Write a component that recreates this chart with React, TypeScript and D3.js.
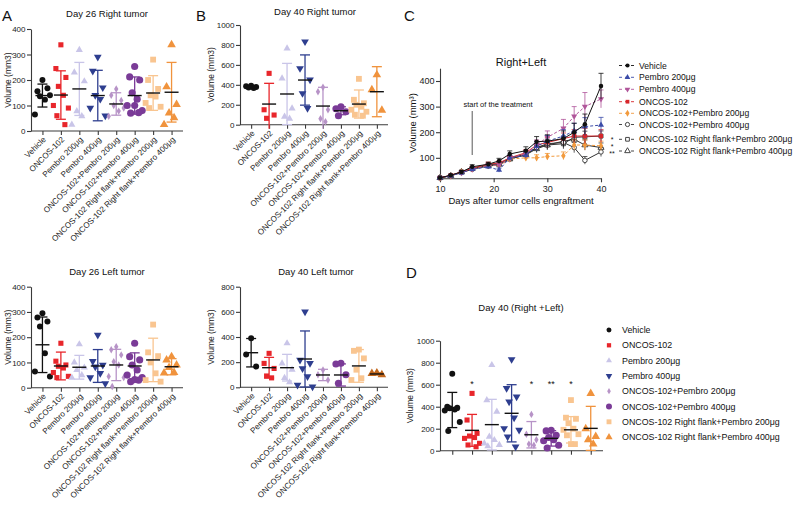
import React, { useEffect, useRef } from "react";
import * as d3 from "d3";

const FONT = "Arial, 'Liberation Sans', Helvetica, sans-serif";

const groups = [
  "Vehicle",
  "ONCOS-102",
  "Pembro 200μg",
  "Pembro 400μg",
  "ONCOS-102+Pembro 200μg",
  "ONCOS-102+Pembro 400μg",
  "ONCOS-102 Right flank+Pembro 200μg",
  "ONCOS-102 Right flank+Pembro 400μg",
];

// Day 26 right tumor (mm3)
const d26RightPts = [
  [200, 156, 168, 136, 123, 65, 140],
  [338, 245, 210, 175, 140, 100, 90, 60, 25],
  [318, 230, 195, 78, 58, 25],
  [290, 235, 170, 140, 125, 90, 60],
  [165, 140, 120, 100, 78, 58, 90],
  [253, 212, 200, 150, 125, 100, 80, 70, 72, 100],
  [280, 200, 165, 140, 135, 110, 95, 90],
  [338, 173, 104, 71, 52, 25],
];
const d26RightMean = [139, 141, 165, 139, 106, 139, 149, 152];
const d26RightSd = [45, 95, 104, 99, 44, 73, 68, 117];

// Day 40 right tumor
const d40RightPts = [
  [392, 385, 378, 372, 368],
  [515, 150, 97, 64],
  [766, 465, 164, 80, 60],
  [833, 565, 450, 314, 164],
  [375, 330, 150, 60, 30],
  [180, 160, 130, 90],
  [460, 250, 215, 200, 180, 150, 130, 100, 90],
  [500, 350, 145],
];
const d40RightMean = [378, 207, 308, 448, 187, 140, 207, 331];
const d40RightSd = [10, 208, 307, 252, 188, 40, 141, 251];

// Day 26 left tumor
const d26LeftPts = [
  [295, 278, 262, 242, 136, 64, 44],
  [176, 105, 90, 85, 78, 60, 45, 40],
  [172, 100, 80, 70, 50, 40],
  [209, 105, 90, 83, 57, 40, 17],
  [162, 150, 130, 103, 90, 44, 40, 5],
  [176, 123, 110, 90, 70, 50, 40, 24, 30, 32],
  [250, 140, 125, 100, 57, 30, 24],
  [123, 110, 90, 80, 60, 58],
];
const d26LeftMean = [170, 86, 81, 86, 90, 86, 110, 83];
const d26LeftSd = [110, 55, 47, 65, 62, 52, 86, 32];

// Day 40 left tumor
const d40LeftPts = [
  [390, 260, 165],
  [270, 190, 150, 90, 75],
  [350, 190, 140, 75, 40],
  [601, 217, 191, 150, 85, 19, 5],
  [138, 100, 58],
  [191, 185, 100, 32],
  [300, 290, 230, 140, 72, 58],
  [115, 110, 100],
];
const d40LeftMean = [275, 156, 156, 225, 98, 98, 170, 106];
const d40LeftSd = [113, 82, 106, 223, 45, 88, 130, 8];

// Day 40 right + left
const d40TotalPts = [
  [700, 400, 390, 385, 375, 365, 260, 180],
  [521, 279, 158, 133, 120, 112, 67, 52, 36],
  [779, 460, 355, 127, 97, 67, 52, 40],
  [830, 567, 491, 445, 300, 203, 188, 127, 36],
  [330, 150, 100, 60, 50],
  [185, 180, 140, 120, 100, 90, 50, 25],
  [460, 300, 290, 250, 200, 190, 150, 140, 60, 60],
  [520, 200, 130, 100, 60],
];
const d40TotalMean = [370, 185, 237, 340, 145, 112, 190, 203];
const d40TotalSd = [160, 145, 230, 260, 120, 70, 120, 200];
const d40TotalStars = ["", "*", "", "", "*", "**", "*", ""];

// Right+Left growth curves
const days = [10, 12, 14, 16, 19, 21, 23, 26, 28, 30, 33, 35, 37, 40];
const lineVehicle = [22, 32, 45, 65, 75, 88, 115, 128, 163, 165, 175, 200, 231, 380];
const linePembro200 = [22, 30, 42, 55, 65, 52, 100, 110, 145, 165, 185, 205, 222, 228];
const linePembro400 = [22, 30, 42, 55, 70, 72, 98, 115, 150, 180, 215, 262, 300, 330];
const lineOncos = [22, 32, 45, 60, 75, 80, 100, 120, 150, 160, 175, 185, 185, 185];
const lineCombo200 = [22, 30, 45, 58, 70, 70, 95, 100, 100, 105, 108, 150, 150, 147];
const lineCombo400 = [22, 30, 42, 55, 68, 72, 95, 112, 140, 155, 160, 140, 90, 123];
const lineRf200 = [22, 30, 45, 58, 72, 78, 98, 115, 140, 150, 155, 180, 182, 185];
const lineRf400 = [22, 30, 45, 58, 70, 75, 95, 112, 135, 150, 165, 172, 150, 140];
const semVehicle = [2, 3, 5, 8, 8, 10, 12, 15, 20, 25, 30, 35, 40, 50];
const semPembro200 = [2, 3, 5, 6, 8, 8, 10, 12, 18, 22, 25, 30, 35, 30];
const semPembro400 = [2, 3, 5, 6, 8, 10, 12, 15, 20, 25, 35, 38, 55, 35];
const semOncos = [2, 3, 5, 6, 8, 8, 10, 12, 15, 20, 22, 25, 30, 25];
const semCombo200 = [2, 3, 4, 5, 6, 8, 8, 10, 12, 12, 15, 20, 20, 18];
const semCombo400 = [2, 3, 4, 6, 6, 8, 10, 12, 15, 18, 20, 20, 15, 18];
const semRf200 = [2, 3, 4, 6, 6, 8, 10, 12, 15, 18, 20, 22, 22, 20];
const semRf400 = [2, 3, 4, 6, 6, 8, 10, 12, 15, 18, 20, 22, 20, 18];

const palette = ["#111111", "#e8262b", "#c9c5e8", "#2e3e8f", "#b793c7", "#7a3b97", "#f9c590", "#f0933d"];
const symbols = [d3.symbolCircle, d3.symbolSquare, d3.symbolTriangle, d3.symbolTriangle, d3.symbolDiamond, d3.symbolCircle, d3.symbolSquare, d3.symbolTriangle];
const symRot = [0, 0, 0, 180, 0, 0, 0, 0];
const symSize = [28, 26, 22, 26, 16, 40, 34, 32];
const jit = [0, -5, 5, -2.5, 2.5, -7.5, 7.5, -4, 4, 0];

function styleAxis(sel, size) {
  sel.attr("font-family", FONT).attr("font-size", size);
  sel.selectAll("path, line").attr("stroke", "#3a3a3a").attr("stroke-width", 1.1);
  sel.selectAll("text").attr("fill", "#222");
}

function drawScatter(svg, c) {
  const x = d3.scalePoint().domain(groups).range([c.left, c.right]).padding(0.62);
  const y = d3.scaleLinear().domain([0, c.max]).range([c.bottom, c.top]);
  const colors = c.colors || palette;
  const g = svg.append("g");

  const ya = g.append("g").attr("transform", `translate(${c.left},0)`)
    .call(d3.axisLeft(y).tickValues(d3.range(0, c.max + 1, c.step)).tickFormat(d3.format("d"))
      .tickSize(4).tickSizeOuter(0).tickPadding(1.5));
  styleAxis(ya, 8);
  const xa = g.append("g").attr("transform", `translate(0,${c.bottom})`)
    .call(d3.axisBottom(x).tickSize(4).tickSizeOuter(0).tickFormat(() => ""));
  styleAxis(xa, 8);
  xa.select(".domain").attr("d", `M${c.left},0H${c.right}`);

  if (c.xLabels) {
    groups.forEach((name) => {
      g.append("text")
        .attr("transform", `translate(${x(name) + 2},${c.bottom + 7}) rotate(-45)`)
        .attr("text-anchor", "end").attr("dy", "0.35em")
        .attr("font-family", FONT).attr("font-size", 8.1).attr("fill", "#222")
        .text(name);
    });
  }

  g.append("text").attr("transform", `translate(${c.labelX},${(c.top + c.bottom) / 2}) rotate(-90)`)
    .attr("text-anchor", "middle").attr("font-family", FONT).attr("font-size", 8.5).attr("fill", "#222")
    .text("Volume (mm3)");
  g.append("text").attr("x", c.titleX).attr("y", c.titleY).attr("text-anchor", "middle")
    .attr("font-family", FONT).attr("font-size", 9.5).attr("fill", "#111").text(c.title);

  groups.forEach((name, i) => {
    const cx = x(name);
    const col = colors[i];
    c.pts[i].forEach((v, j) => {
      g.append("path")
        .attr("d", d3.symbol().type(symbols[i]).size(symSize[i])())
        .attr("transform", `translate(${cx + jit[j % jit.length]},${y(v)}) rotate(${symRot[i]})`)
        .attr("fill", col);
    });
    const hi = y(c.mean[i] + c.sd[i]);
    const loVal = c.mean[i] - c.sd[i];
    const lo = loVal < 0 ? c.bottom + 4 : y(loVal);
    g.append("line").attr("x1", cx).attr("x2", cx).attr("y1", hi).attr("y2", lo)
      .attr("stroke", col).attr("stroke-width", 1.3);
    const caps = loVal < 0 ? [hi] : [hi, lo];
    caps.forEach((yy) => {
      g.append("line").attr("x1", cx - 5).attr("x2", cx + 5).attr("y1", yy).attr("y2", yy)
        .attr("stroke", col).attr("stroke-width", 1.3);
    });
    g.append("line").attr("x1", cx - 7).attr("x2", cx + 7).attr("y1", y(c.mean[i])).attr("y2", y(c.mean[i]))
      .attr("stroke", "#111").attr("stroke-width", 1.4);
    if (c.stars && c.stars[i]) {
      g.append("text").attr("x", cx).attr("y", y(c.starAt) + 4).attr("text-anchor", "middle")
        .attr("font-family", FONT).attr("font-size", 9).attr("fill", "#111").text(c.stars[i]);
    }
  });
  return x;
}

function panelLetter(svg, letter, x, y) {
  svg.append("text").attr("x", x).attr("y", y).attr("font-family", FONT).attr("font-size", 15)
    .attr("fill", "#111").text(letter);
}

function App() {
  const ref = useRef(null);

  useEffect(() => {
    const svg = d3.select(ref.current);
    svg.selectAll("*").remove();
    svg.append("rect").attr("width", 800).attr("height", 517).attr("fill", "#fff");

    panelLetter(svg, "A", 2, 21);
    panelLetter(svg, "B", 196, 21);
    panelLetter(svg, "C", 404, 21);
    panelLetter(svg, "D", 406, 278);

    drawScatter(svg, { left: 31, right: 183, top: 29, bottom: 131, max: 400, step: 100, title: "Day 26 Right tumor", titleX: 107, titleY: 17, labelX: 11, pts: d26RightPts, mean: d26RightMean, sd: d26RightSd, xLabels: true });
    drawScatter(svg, { left: 240, right: 388, top: 25, bottom: 124.7, max: 1000, step: 200, title: "Day 40 Right tumor", titleX: 315, titleY: 15, labelX: 214, pts: d40RightPts, mean: d40RightMean, sd: d40RightSd, xLabels: true });
    drawScatter(svg, { left: 31, right: 183, top: 286.7, bottom: 387.7, max: 400, step: 100, title: "Day 26 Left tumor", titleX: 107, titleY: 275, labelX: 11, pts: d26LeftPts, mean: d26LeftMean, sd: d26LeftSd, xLabels: true });
    const leftColors = palette.slice(0, 7).concat(["#c2671c"]);
    drawScatter(svg, { left: 240, right: 388, top: 286.7, bottom: 387.3, max: 800, step: 200, title: "Day 40 Left tumor", titleX: 316, titleY: 275, labelX: 214, pts: d40LeftPts, mean: d40LeftMean, sd: d40LeftSd, xLabels: true, colors: leftColors });
    drawScatter(svg, { left: 440, right: 603, top: 340.7, bottom: 450.7, max: 1000, step: 200, title: "Day 40 (Right +Left)", titleX: 521, titleY: 311, labelX: 413, pts: d40TotalPts, mean: d40TotalMean, sd: d40TotalSd, xLabels: false, stars: d40TotalStars, starAt: 620 });

    // D legend
    groups.forEach((name, i) => {
      const yy = 330 + 15.3 * i;
      svg.append("path").attr("d", d3.symbol().type(symbols[i]).size(symSize[i] * 0.7)())
        .attr("transform", `translate(609,${yy}) rotate(${symRot[i]})`).attr("fill", palette[i]);
      svg.append("text").attr("x", 622).attr("y", yy).attr("dy", "0.35em").attr("font-family", FONT)
        .attr("font-size", 8.85).attr("fill", "#111").text(name);
    });

    // C: growth curves
    const xC = d3.scaleLinear().domain([10, 40]).range([440, 601]);
    const yC = d3.scaleLinear().domain([20, 450]).range([178.3, 68.2]);
    const gc = svg.append("g");
    const yaC = gc.append("g").attr("transform", "translate(440,0)")
      .call(d3.axisLeft(yC).tickValues([100, 200, 300, 400]).tickSize(4).tickSizeOuter(0).tickPadding(1.5));
    styleAxis(yaC, 9);
    const xaC = gc.append("g").attr("transform", "translate(0,178.3)")
      .call(d3.axisBottom(xC).tickValues([10, 20, 30, 40]).tickSize(4).tickSizeOuter(0).tickPadding(3));
    styleAxis(xaC, 9);
    gc.append("text").attr("x", 521).attr("y", 66).attr("text-anchor", "middle").attr("font-family", FONT)
      .attr("font-size", 11).attr("fill", "#111").text("Right+Left");
    gc.append("text").attr("x", 521).attr("y", 204).attr("text-anchor", "middle").attr("font-family", FONT)
      .attr("font-size", 9.5).attr("fill", "#111").text("Days after tumor cells engraftment");
    gc.append("text").attr("transform", `translate(416,123) rotate(-90)`).attr("text-anchor", "middle")
      .attr("font-family", FONT).attr("font-size", 9.5).attr("fill", "#111").text("Volume (mm³)");
    gc.append("text").attr("x", 498).attr("y", 107).attr("text-anchor", "middle").attr("font-family", FONT)
      .attr("font-size", 7.5).attr("fill", "#111").text("start of the treatment");
    gc.append("line").attr("x1", xC(16)).attr("x2", xC(16)).attr("y1", 111).attr("y2", 155)
      .attr("stroke", "#444").attr("stroke-width", 0.9);

    const cSeries = [
      { name: groups[0], vals: lineVehicle, sem: semVehicle, color: "#111", sym: d3.symbolCircle, rot: 0, open: false, dash: null },
      { name: groups[2], vals: linePembro200, sem: semPembro200, color: "#3b4ba8", sym: d3.symbolTriangle, rot: 0, open: false, dash: "3,2" },
      { name: groups[3], vals: linePembro400, sem: semPembro400, color: "#b0559a", sym: d3.symbolTriangle, rot: 180, open: false, dash: "3,2" },
      { name: groups[1], vals: lineOncos, sem: semOncos, color: "#d7262b", sym: d3.symbolSquare, rot: 0, open: false, dash: null },
      { name: groups[4], vals: lineCombo200, sem: semCombo200, color: "#f29a3d", sym: d3.symbolDiamond, rot: 0, open: false, dash: "3,2" },
      { name: groups[5], vals: lineCombo400, sem: semCombo400, color: "#333", sym: d3.symbolCircle, rot: 0, open: true, dash: null },
      { name: groups[6], vals: lineRf200, sem: semRf200, color: "#333", sym: d3.symbolSquare, rot: 0, open: true, dash: null },
      { name: groups[7], vals: lineRf400, sem: semRf400, color: "#333", sym: d3.symbolTriangle, rot: 0, open: true, dash: null },
    ];
    const line = d3.line().x((d, i) => xC(days[i])).y((d) => yC(d));
    const legendY = [65.5, 77.3, 89.3, 101.7, 113.3, 124.5, 139.3, 151];

    cSeries.slice().reverse().forEach((s) => {
      s.vals.forEach((v, i) => {
        const cx = xC(days[i]);
        gc.append("line").attr("x1", cx).attr("x2", cx).attr("y1", yC(v + s.sem[i])).attr("y2", yC(Math.max(20, v - s.sem[i])))
          .attr("stroke", s.color).attr("stroke-width", 0.8);
        gc.append("line").attr("x1", cx - 2.5).attr("x2", cx + 2.5).attr("y1", yC(v + s.sem[i])).attr("y2", yC(v + s.sem[i]))
          .attr("stroke", s.color).attr("stroke-width", 0.8);
      });
      gc.append("path").attr("d", line(s.vals)).attr("fill", "none").attr("stroke", s.color)
        .attr("stroke-width", 1).attr("stroke-dasharray", s.dash);
      s.vals.forEach((v, i) => {
        gc.append("path").attr("d", d3.symbol().type(s.sym).size(16)())
          .attr("transform", `translate(${xC(days[i])},${yC(v)}) rotate(${s.rot})`)
          .attr("fill", s.open ? "#fff" : s.color).attr("stroke", s.color).attr("stroke-width", s.open ? 0.9 : 0);
      });
    });

    cSeries.forEach((s, i) => {
      const yy = legendY[i];
      gc.append("line").attr("x1", 619).attr("x2", 636).attr("y1", yy).attr("y2", yy)
        .attr("stroke", s.color).attr("stroke-width", 0.9).attr("stroke-dasharray", "3,3");
      gc.append("path").attr("d", d3.symbol().type(s.sym).size(14)())
        .attr("transform", `translate(627.5,${yy}) rotate(${s.rot})`)
        .attr("fill", s.open ? "#fff" : s.color).attr("stroke", s.color).attr("stroke-width", s.open ? 0.9 : 0);
      gc.append("text").attr("x", 639).attr("y", yy).attr("dy", "0.35em").attr("font-family", FONT)
        .attr("font-size", 8.6).attr("fill", "#111").text(s.name);
    });
    [["*", 142], ["*", 149], ["**", 156]].forEach(([t, yy]) => {
      gc.append("text").attr("x", 612).attr("y", yy).attr("text-anchor", "middle").attr("font-family", FONT)
        .attr("font-size", 7).attr("fill", "#111").text(t);
    });
  }, []);

  return (
    <svg ref={ref} width={800} height={517} style={{ position: "absolute", left: 0, top: 0 }}></svg>
  );
}

export default App;
